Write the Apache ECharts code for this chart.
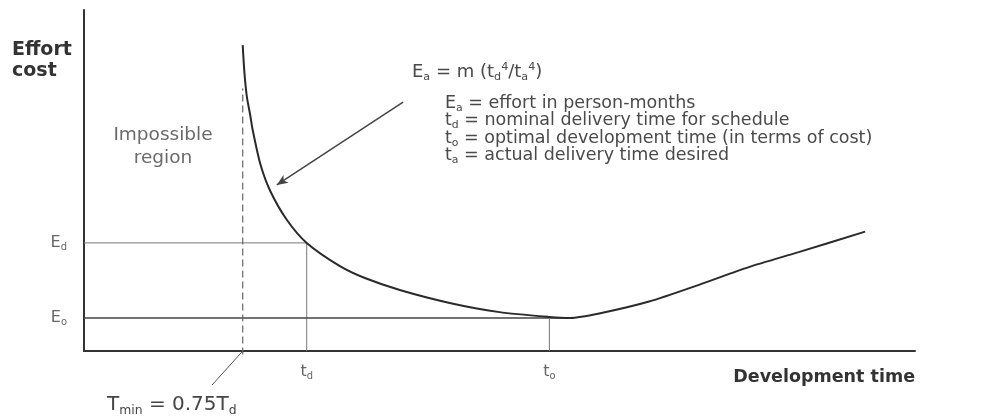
<!DOCTYPE html>
<html>
<head>
<meta charset="utf-8">
<script src="https://cdn.jsdelivr.net/npm/echarts@6/dist/echarts.min.js"></script>
<style>
html, body { margin: 0; background: #fff; }
#chart { width: 1005px; height: 418px; }
</style>
</head>
<body>
<div id="chart"></div>
<script>
// effort curve (time and effort in arbitrary units, 0-100)
var curveTime = [19.1, 19.3, 19.6, 20.0, 20.3, 21.2, 22.4, 24.4, 26.8, 30.8, 33.8, 38, 44, 50, 56, 58.5, 62, 68, 74, 80, 86, 94];
var curveEffort = [89.7, 81.8, 74.5, 69.2, 64.8, 55, 47, 38.5, 31.7, 24.9, 21.4, 17.9, 14.1, 11.4, 10, 9.7, 11, 14.5, 19.4, 24.6, 29, 35];

// marked times and efforts
var tMin = 19.1, tD = 26.8, tO = 56;
var eD = 31.7, eO = 9.7;
var eOLineEnd = 58;
var tMinTop = 77;

// arrow pointing at the curve, and leader line of the T_min label
var arrowFrom = [38.4, 73], arrowTo = [23.2, 48.7];
var leaderFrom = [tMin, 0], leaderTo = [15.4, -10];

var legendLines = [
    'E{sub|a} = effort in person-months',
    't{sub|d} = nominal delivery time for schedule',
    't{sub|o} = optimal development time (in terms of cost)',
    't{sub|a} = actual delivery time desired'
];

var FONT = '"DejaVu Sans", sans-serif';
var rich = function (size, color) {
    return {
        sub: { fontSize: size * 0.62, fontFamily: FONT, fill: color, color: color, lineHeight: 9, padding: [size * 0.55, 0, 0, 0] },
        sup: { fontSize: size * 0.62, fontFamily: FONT, fill: color, color: color, lineHeight: 9, padding: [0, 0, size * 0.55, 0] }
    };
};

var curve = curveTime.map(function (t, i) { return [t, curveEffort[i]]; });
var guide = { color: '#777', width: 1 };

var chart = echarts.init(document.getElementById('chart'));
chart.setOption({
    animation: false,
    grid: { left: 84, right: 90, top: 10, bottom: 67 },
    xAxis: {
        type: 'value', min: 0, max: 100,
        axisLine: { lineStyle: { color: '#333', width: 2 } },
        axisTick: { show: false }, axisLabel: { show: false }, splitLine: { show: false }
    },
    yAxis: {
        type: 'value', min: 0, max: 100,
        axisLine: { show: true, lineStyle: { color: '#333', width: 2 } },
        axisTick: { show: false }, axisLabel: { show: false }, splitLine: { show: false }
    },
    series: [
        {
            type: 'line', data: [[0, eD], [tD, eD], [tD, 0]],
            showSymbol: false, lineStyle: guide, silent: true
        },
        {
            type: 'line', data: [[0, eO], [eOLineEnd, eO]],
            showSymbol: false, lineStyle: { color: '#444', width: 1.5 }, silent: true
        },
        {
            type: 'line', data: [[tO, eO], [tO, 0]],
            showSymbol: false, lineStyle: guide, silent: true
        },
        {
            type: 'line', data: [[tMin, -1], [tMin, tMinTop]],
            showSymbol: false, clip: false, silent: true,
            lineStyle: { color: '#666', width: 1.2, type: [7, 4] }
        },
        {
            type: 'line', data: [leaderFrom, leaderTo],
            showSymbol: false, clip: false, silent: true,
            lineStyle: { color: '#555', width: 1 }
        },
        {
            type: 'line', data: curve, smooth: 0.25,
            showSymbol: false, silent: true,
            lineStyle: { color: '#2a2a2a', width: 2 },
            markLine: {
                silent: true, symbol: ['none', 'arrow'], symbolSize: [7, 11],
                label: { show: false },
                lineStyle: { color: '#444', width: 1.5, type: 'solid' },
                data: [[{ coord: arrowFrom }, { coord: arrowTo }]]
            }
        }
    ]
});

function px(p) { return chart.convertToPixel({ gridIndex: 0 }, p); }

var pD = px([tD, eD]), pO = px([tO, eO]), pMin = px(leaderTo);
var textColor = '#4a4a4a';
var graphics = [
    { type: 'text', left: 12, top: 40, style: { text: 'Effort\ncost', font: 'bold 19px ' + FONT, fill: '#333', lineHeight: 21 } },
    { type: 'text', x: 163, y: 147, style: { text: 'Impossible\nregion', font: '18.5px ' + FONT, fill: '#6a6a6a', lineHeight: 23, align: 'center', verticalAlign: 'middle' } },
    { type: 'text', x: 915, y: 377, style: { text: 'Development time', font: 'bold 17.5px ' + FONT, fill: '#333', align: 'right', verticalAlign: 'middle' } },
    { type: 'text', x: 67, y: pD[1], style: { text: 'E{sub|d}', font: '16px ' + FONT, fill: '#666', align: 'right', verticalAlign: 'middle', rich: rich(16, '#666') } },
    { type: 'text', x: 67, y: pO[1], style: { text: 'E{sub|o}', font: '16px ' + FONT, fill: '#666', align: 'right', verticalAlign: 'middle', rich: rich(16, '#666') } },
    { type: 'text', x: pD[0], y: 372, style: { text: 't{sub|d}', font: '16px ' + FONT, fill: '#666', align: 'center', verticalAlign: 'middle', rich: rich(16, '#666') } },
    { type: 'text', x: pO[0], y: 372, style: { text: 't{sub|o}', font: '16px ' + FONT, fill: '#666', align: 'center', verticalAlign: 'middle', rich: rich(16, '#666') } },
    { type: 'text', x: pMin[0] - 105, y: pMin[1] + 20, style: { text: 'T{sub|min} = 0.75T{sub|d}', font: '20px ' + FONT, fill: '#444', verticalAlign: 'middle', rich: rich(20, '#444') } },
    { type: 'text', x: 412, y: 72, style: { text: 'E{sub|a} = m (t{sub|d}{sup|4}/t{sub|a}{sup|4})', font: '18px ' + FONT, fill: textColor, verticalAlign: 'middle', rich: rich(18, textColor) } }
];
legendLines.forEach(function (line, i) {
    graphics.push({ type: 'text', x: 445, y: 103 + i * 17.5, style: { text: line, font: '17.5px ' + FONT, fill: textColor, verticalAlign: 'middle', rich: rich(17.5, textColor) } });
});
chart.setOption({ graphic: graphics });
</script>
</body>
</html>
